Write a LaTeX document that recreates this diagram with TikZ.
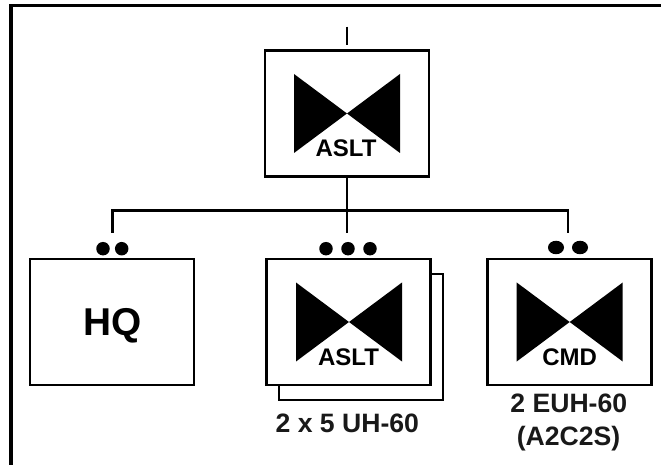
\documentclass[tikz,border=0pt]{standalone}
\usepackage{fontspec}
\setmainfont{Liberation Sans}
\usetikzlibrary{shapes.geometric}
\tikzset{
  unitbox/.style={draw=black,fill=white,line width=2.6bp,minimum width=164bp,minimum height=126bp,inner sep=0pt,outer sep=0pt},
  conn/.style={draw=black,line width=2.6bp},
  dot/.style={circle,fill=black,inner sep=0pt,minimum size=13.5bp},
  wdot/.style={ellipse,fill=black,inner sep=0pt,minimum width=16bp,minimum height=13.5bp},
  small/.style={font=\bfseries\fontsize{24bp}{26bp}\selectfont,inner sep=0pt,anchor=base},
  lab/.style={font=\bfseries\fontsize{26.6bp}{29bp}\selectfont,inner sep=0pt,anchor=base,text=black!90},
  tie/.style={fill=black,draw=none}
}
\newcommand{\mytie}[2]{\fill[tie] (#1-53,#2-39.5) -- (#1+53,#2+39.5) -- (#1+53,#2-39.5) -- (#1-53,#2+39.5) -- cycle;}
\begin{document}
\begin{tikzpicture}[x=1bp,y=-1bp]
\useasboundingbox (0,0) rectangle (661,465);
\fill[white] (0,0) rectangle (661,465);
% frame
\coordinate (fa) at (10.8,465);
\coordinate (fb) at (10.8,5.7);
\coordinate (fc) at (661,5.7);
\draw[black,line width=3.4bp] (fa) -- (fb) -- (fc);
% top unit
\node[unitbox] (top) at (347,113.5) {};
\mytie{347}{113.5}
\node[small] (toplab) at (346,156.5) {ASLT};
\coordinate (stubA) at (346.8,26.7);
\coordinate (stubB) at (346.8,44.7);
\draw[conn] (stubA) -- (stubB);
% HQ
\node[unitbox] (hq) at (112,322) {};
\node[inner sep=0pt,font=\bfseries\fontsize{38.8bp}{42bp}\selectfont,anchor=base] (hqlab) at (112.3,335) {HQ};
% ASLT platoons
\node[unitbox] (back) at (361,337) {};
\node[unitbox] (mid) at (348.5,322) {};
\mytie{349}{322}
\node[small] (midlab) at (348.5,365) {ASLT};
\node[lab] (midcap) at (347.3,432) {2 x 5 UH-60};
% CMD
\node[unitbox] (cmd) at (569.5,322) {};
\mytie{569.7}{322}
\node[small] (cmdlab) at (569.7,365) {CMD};
\node[lab] (cmda) at (568.8,412.7) {2 EUH-60};
\node[lab] (cmdb) at (568.5,445) {(A2C2S)};
% connectors
\coordinate (busL) at (112.7,210.3);
\coordinate (busM) at (346.8,210.3);
\coordinate (busR) at (568,210.3);
\coordinate (dropL) at (112.7,233);
\coordinate (dropM) at (346.8,233);
\coordinate (dropR) at (568,233);
\draw[conn] (dropL) -- (busL) -- (busR) -- (dropR);
\draw[conn] (top.south -| busM) -- (dropM);
% echelon dots
\node[dot] (h1) at (103,248.7) {};
\node[dot] (h2) at (121.7,248.7) {};
\node[dot] (m1) at (326,248.7) {};
\node[dot] (m2) at (348,248.7) {};
\node[dot] (m3) at (370,248.7) {};
\node[wdot] (c1) at (556,247.5) {};
\node[wdot] (c2) at (580,247.5) {};
\end{tikzpicture}
\end{document}
